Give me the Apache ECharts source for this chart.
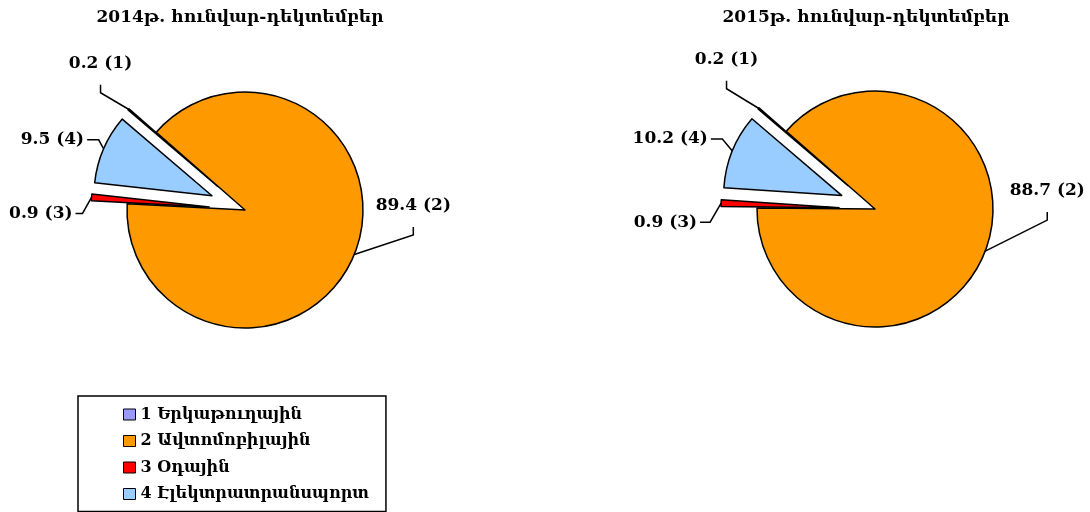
<!DOCTYPE html>
<html>
<head>
<meta charset="utf-8">
<script src="https://cdn.jsdelivr.net/npm/echarts@6/dist/echarts.min.js"></script>
<style>
html,body{margin:0;padding:0;background:#fff;}
#c{width:1090px;height:512px;}
</style>
</head>
<body>
<div id="c"></div>
<script>
const categories = ['Երկաթուղային', 'Ավտոմոբիլային', 'Օդային', 'Էլեկտրատրանսպորտ'];
const values2014 = [0.2, 89.4, 0.9, 9.5];
const values2015 = [0.2, 88.7, 0.9, 10.2];
const titles = ['2014թ. հունվար-դեկտեմբեր', '2015թ. հունվար-դեկտեմբեր'];
const colors = ['#9999FF', '#FF9900', '#FF0000', '#99CCFF'];

const FONT = '"DejaVu Serif", serif';
const R = 118;
const OFFSET = 36;
const START = 139.5;
const centers = [[245, 210], [875, 209]];
const names = categories.map((c, i) => (i + 1) + ' ' + c);
const explodedIdx = [0, 2, 3];

function visualSeries(values, center) {
  return {
    type: 'pie',
    center: center,
    radius: R,
    startAngle: START,
    clockwise: true,
    selectedMode: 'multiple',
    selectedOffset: OFFSET,
    avoidLabelOverlap: false,
    label: { show: false },
    labelLine: { show: false },
    itemStyle: { borderColor: '#000', borderWidth: 1.5 },
    emphasis: { disabled: true },
    select: { itemStyle: { borderColor: '#000', borderWidth: 1.5 } },
    data: values.map((v, i) => ({
      name: names[i], value: v,
      selected: explodedIdx.indexOf(i) >= 0,
      itemStyle: { color: colors[i] }
    }))
  };
}

// leader-line shapes per pie (label placement only)
const leaders = [
  [
    { bend: [-28, -16.5], end: [0, -8], label: [0, -21], align: 'center' },
    { bend: [59, -19.5], end: [0, -8], label: [0, -21], align: 'center' },
    { bend: [-9, 16], end: [-7, 0], label: [-3, 0], align: 'right' },
    { bend: [-5, -9], end: [-11.5, 0], label: [-3, 0], align: 'right' }
  ],
  [
    { bend: [-32, -19.5], end: [0, -8], label: [0, -21], align: 'center' },
    { bend: [62, -31], end: [0, -8], label: [0, -21], align: 'center' },
    { bend: [-11, 19], end: [-10, 0], label: [-3, 0], align: 'right' },
    { bend: [-10, -12], end: [-11.5, 0], label: [-3, 0], align: 'right' }
  ]
];

function makeLayout(center, leader) {
  return function (params) {
    const pts = params.labelLinePoints;
    if (!pts) return {};
    const i = params.dataIndex;
    const p0 = pts[0];
    let ux = p0[0] - center[0], uy = p0[1] - center[1];
    const l = Math.hypot(ux, uy) || 1; ux /= l; uy /= l;
    const off = explodedIdx.indexOf(i) >= 0 ? OFFSET : 0;
    const a = [p0[0] + ux * off, p0[1] + uy * off];
    const s = leader[i];
    const b = [a[0] + s.bend[0], a[1] + s.bend[1]];
    const e = [b[0] + s.end[0], b[1] + s.end[1]];
    return {
      x: e[0] + s.label[0], y: e[1] + s.label[1],
      align: s.align, verticalAlign: 'middle',
      labelLinePoints: [a, b, e]
    };
  };
}

function labelSeries(values, center, leader) {
  return {
    type: 'pie',
    center: center,
    radius: R,
    startAngle: START,
    clockwise: true,
    silent: true,
    avoidLabelOverlap: false,
    itemStyle: { color: 'rgba(0,0,0,0)', borderWidth: 0 },
    emphasis: { disabled: true },
    label: {
      show: true, position: 'outside', color: '#000',
      fontFamily: FONT, fontWeight: 'bold', fontSize: 17,
      formatter: p => p.value + ' (' + (p.dataIndex + 1) + ')'
    },
    labelLine: { show: true, length: 10, length2: 10, lineStyle: { color: '#000', width: 1.5 } },
    labelLayout: makeLayout(center, leader),
    data: values.map((v, i) => ({ name: names[i], value: v }))
  };
}

const chart = echarts.init(document.getElementById('c'), null, { renderer: 'canvas' });
chart.setOption({
  animation: false,
  backgroundColor: '#fff',
  graphic: titles.map((t, k) => ({
    type: 'text', x: [240, 866][k], y: 18,
    style: { text: t, font: 'bold 17px ' + FONT, fill: '#000', textAlign: 'center', textVerticalAlign: 'middle' }
  })),
  legend: {
    data: names,
    orient: 'vertical',
    left: 78, top: 396,
    padding: [10, 17, 9, 45],
    borderColor: '#000', borderWidth: 1.5,
    itemWidth: 12, itemHeight: 11, itemGap: 9.5,
    icon: 'rect',
    itemStyle: { borderColor: '#000', borderWidth: 1 },
    selectedMode: false,
    textStyle: { fontFamily: FONT, fontWeight: 'bold', fontSize: 16, color: '#000', lineHeight: 17 }
  },
  series: [
    visualSeries(values2014, centers[0]),
    visualSeries(values2015, centers[1]),
    labelSeries(values2014, centers[0], leaders[0]),
    labelSeries(values2015, centers[1], leaders[1])
  ]
});
</script>
</body>
</html>
